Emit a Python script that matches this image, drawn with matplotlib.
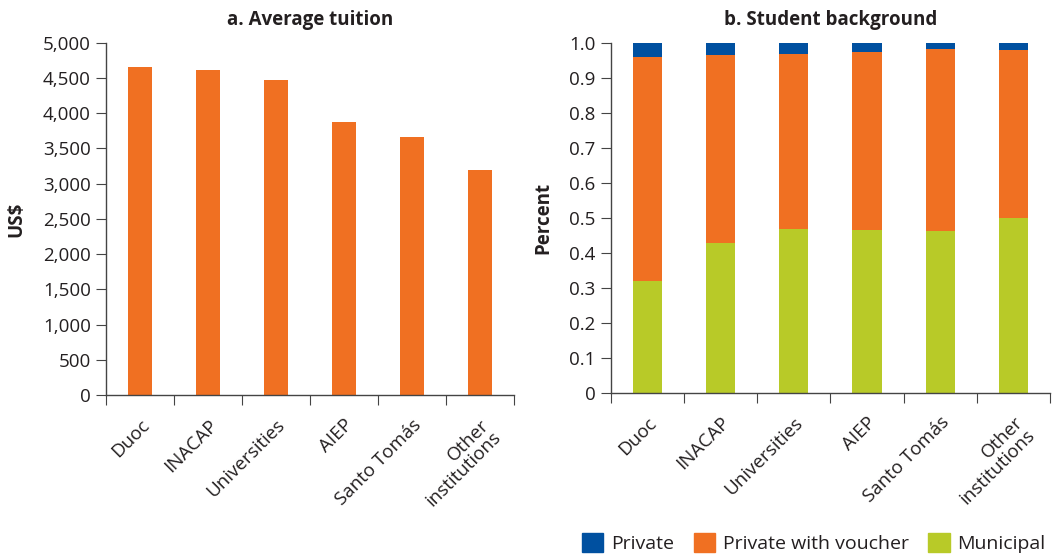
import numpy as np
import matplotlib.pyplot as plt
from matplotlib.patches import Patch
from matplotlib.ticker import FuncFormatter

plt.rcParams['font.family'] = ['Open Sans', 'DejaVu Sans']

# data
institutions = ['Duoc', 'INACAP', 'Universities', 'AIEP', 'Santo Tomás', 'Other\ninstitutions']
tuition = [4660, 4615, 4475, 3880, 3665, 3195]

municipal = [0.319, 0.428, 0.468, 0.465, 0.463, 0.498]
voucher = [0.641, 0.536, 0.499, 0.510, 0.520, 0.483]
private = [0.040, 0.036, 0.033, 0.025, 0.017, 0.019]

orange = '#F07022'
blue = '#0050A0'
green = '#B8CA28'
ink = '#231F20'

fig = plt.figure(figsize=(10.64, 5.57), dpi=100)
ax1 = fig.add_axes([0.0996, 0.291, 0.3835, 0.632])
ax2 = fig.add_axes([0.574, 0.295, 0.413, 0.628])

x = np.arange(len(institutions)) + 0.5


def style(ax):
    ax.spines['top'].set_visible(False)
    ax.spines['right'].set_visible(False)
    for s in ('left', 'bottom'):
        ax.spines[s].set_color('#444444')
        ax.spines[s].set_linewidth(1.0)
    ax.set_xlim(0, len(institutions))
    ax.set_xticks(np.arange(len(institutions) + 1))
    ax.set_xticklabels([])
    ax.set_xticks(x, minor=True)
    ax.set_xticklabels(institutions, minor=True, rotation=45, ha='right',
                       va='top', rotation_mode='anchor', fontsize=13.5,
                       color=ink, linespacing=0.95)
    ax.tick_params(axis='x', which='minor', length=0, pad=15)
    ax.tick_params(axis='x', which='major', length=7, direction='out',
                   color='#444444')
    ax.tick_params(axis='y', length=7, direction='out', color='#444444',
                   labelsize=13.5, labelcolor=ink, pad=4)


# a. Average tuition
ax1.bar(x, tuition, width=0.35, color=orange)
ax1.set_ylim(0, 5000)
ax1.set_yticks(np.arange(0, 5001, 500))
ax1.yaxis.set_major_formatter(FuncFormatter(lambda v, p: f'{int(v):,}'))
style(ax1)
ax1.set_ylabel('US$', fontsize=13.5, fontweight='bold', color=ink, labelpad=12)
ax1.set_title('a. Average tuition', fontsize=13.5, fontweight='bold', color=ink, pad=13)

# b. Student background
ax2.bar(x, municipal, width=0.4, color=green)
ax2.bar(x, voucher, width=0.4, bottom=municipal, color=orange)
ax2.bar(x, private, width=0.4, bottom=np.add(municipal, voucher), color=blue)
ax2.set_ylim(0, 1.0)
ax2.set_yticks(np.arange(0, 1.01, 0.1))
ax2.yaxis.set_major_formatter(FuncFormatter(lambda v, p: '0' if v == 0 else f'{v:.1f}'))
style(ax2)
ax2.set_ylabel('Percent', fontsize=13.5, fontweight='bold', color=ink, labelpad=11)
ax2.set_title('b. Student background', fontsize=13.5, fontweight='bold', color=ink, pad=13)

handles = [Patch(color=blue, label='Private'),
           Patch(color=orange, label='Private with voucher'),
           Patch(color=green, label='Municipal')]
leg = fig.legend(handles=handles, loc='lower right', ncol=3, frameon=False,
                 bbox_to_anchor=(0.999, -0.025), fontsize=14, handlelength=1.1,
                 handleheight=1.1, handletextpad=0.4, columnspacing=1.0)
for t in leg.get_texts():
    t.set_color(ink)

fig.savefig('out.png', dpi=100)
